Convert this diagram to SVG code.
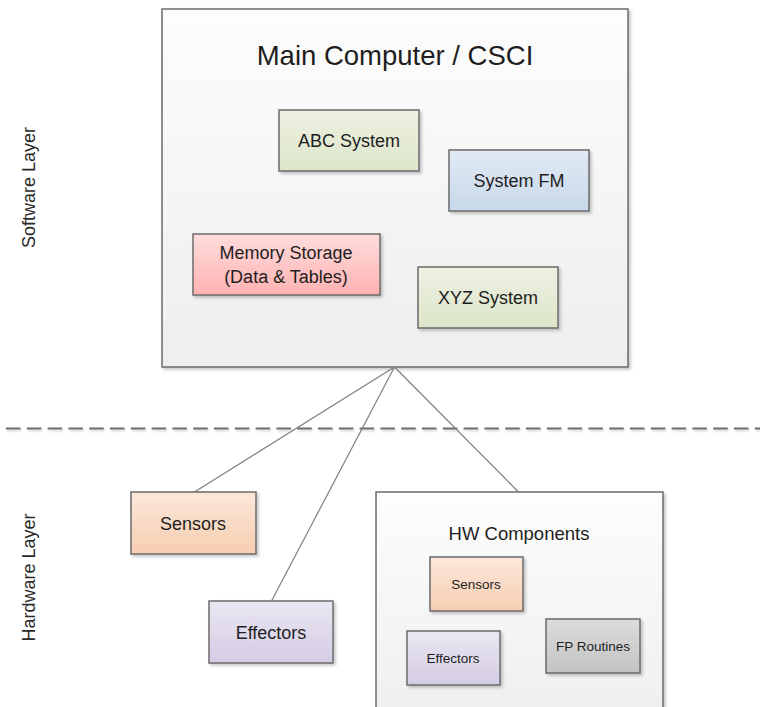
<svg xmlns="http://www.w3.org/2000/svg" width="760" height="707" viewBox="0 0 760 707">
  <defs>
    <filter id="shadow" x="-10%" y="-10%" width="130%" height="130%">
      <feDropShadow dx="2" dy="2" stdDeviation="1.4" flood-color="#000" flood-opacity="0.22"/>
    </filter>
    <filter id="lineShadow" filterUnits="userSpaceOnUse" x="0" y="418" width="760" height="22">
      <feDropShadow dx="1" dy="1.5" stdDeviation="1" flood-color="#000" flood-opacity="0.2"/>
    </filter>
    <linearGradient id="gContainer" x1="0" y1="0" x2="0" y2="1">
      <stop offset="0" stop-color="#fdfdfd"/>
      <stop offset="1" stop-color="#eeeeee"/>
    </linearGradient>
    <linearGradient id="gGreen" x1="0" y1="0" x2="0" y2="1">
      <stop offset="0" stop-color="#edf1e2"/>
      <stop offset="1" stop-color="#dde5c9"/>
    </linearGradient>
    <linearGradient id="gBlue" x1="0" y1="0" x2="0" y2="1">
      <stop offset="0" stop-color="#e1eaf5"/>
      <stop offset="1" stop-color="#c8d8ea"/>
    </linearGradient>
    <linearGradient id="gRed" x1="0" y1="0" x2="0" y2="1">
      <stop offset="0" stop-color="#ffdcdc"/>
      <stop offset="1" stop-color="#ffb2b2"/>
    </linearGradient>
    <linearGradient id="gOrange" x1="0" y1="0" x2="0" y2="1">
      <stop offset="0" stop-color="#fce8da"/>
      <stop offset="1" stop-color="#f6ceb1"/>
    </linearGradient>
    <linearGradient id="gPurple" x1="0" y1="0" x2="0" y2="1">
      <stop offset="0" stop-color="#ebe7f2"/>
      <stop offset="1" stop-color="#d4cce4"/>
    </linearGradient>
    <linearGradient id="gGray" x1="0" y1="0" x2="0" y2="1">
      <stop offset="0" stop-color="#dcdcdc"/>
      <stop offset="1" stop-color="#c3c3c3"/>
    </linearGradient>
  </defs>
  <style>
    .box { stroke: #6b6b6b; stroke-width: 1.5; filter: url(#shadow); }
    .label { font-family: "Liberation Sans", Arial, sans-serif; fill: #1e1e1e; text-anchor: middle; }
    .title { font-size: 27.5px; }
    .mid { font-size: 18px; }
    .small { font-size: 13.5px; }
    .layer { font-size: 18px; fill: #2a2a2a; }
    .conn { stroke: #808080; stroke-width: 1.2; fill: none; }
    .divider { stroke: #6e6e6e; stroke-width: 2; stroke-dasharray: 14.5 6.3; fill: none; filter: url(#lineShadow); }
  </style>

  <!-- layer labels and separator -->
  <g id="layers">
    <text class="label layer" transform="translate(35,187.5) rotate(-90)">Software Layer</text>
    <text class="label layer" transform="translate(35,577.5) rotate(-90)">Hardware Layer</text>
    <path class="divider" d="M6,428.5 H760"/>
  </g>

  <!-- software layer: main computer -->
  <g id="main-computer">
    <rect class="box" x="162" y="9" width="466" height="358" fill="url(#gContainer)"/>
    <text class="label title" x="395" y="65">Main Computer / CSCI</text>
  </g>
  <g id="abc-system">
    <rect class="box" x="279" y="110" width="140" height="61" fill="url(#gGreen)"/>
    <text class="label mid" x="349" y="147">ABC System</text>
  </g>
  <g id="system-fm">
    <rect class="box" x="449" y="150" width="140" height="61" fill="url(#gBlue)"/>
    <text class="label mid" x="519" y="187">System FM</text>
  </g>
  <g id="memory-storage">
    <rect class="box" x="193" y="234" width="187" height="61" fill="url(#gRed)"/>
    <text class="label mid" x="286" y="259">Memory Storage</text>
    <text class="label mid" x="286" y="283">(Data &amp; Tables)</text>
  </g>
  <g id="xyz-system">
    <rect class="box" x="418" y="267" width="140" height="61" fill="url(#gGreen)"/>
    <text class="label mid" x="488" y="304">XYZ System</text>
  </g>

  <!-- connectors from the main computer down to the hardware layer -->
  <g id="connectors">
    <path class="conn" d="M394.5,367 L194.5,492"/>
    <path class="conn" d="M394.5,367 L271.5,601"/>
    <path class="conn" d="M394.5,367 L518.5,492"/>
  </g>

  <!-- hardware layer -->
  <g id="sensors">
    <rect class="box" x="131" y="492" width="125" height="62" fill="url(#gOrange)"/>
    <text class="label mid" x="193" y="529.5">Sensors</text>
  </g>
  <g id="effectors">
    <rect class="box" x="209" y="601" width="124" height="62" fill="url(#gPurple)"/>
    <text class="label mid" x="271" y="638.5">Effectors</text>
  </g>
  <g id="hw-components">
    <rect class="box" x="376" y="492" width="287" height="240" fill="url(#gContainer)"/>
    <text class="label" style="font-size:18.5px" x="519" y="539.5">HW Components</text>
  </g>
  <g id="hw-sensors">
    <rect class="box" x="430" y="557" width="93" height="54" fill="url(#gOrange)"/>
    <text class="label small" x="476" y="589">Sensors</text>
  </g>
  <g id="hw-effectors">
    <rect class="box" x="407" y="631" width="93" height="54" fill="url(#gPurple)"/>
    <text class="label small" x="453" y="663">Effectors</text>
  </g>
  <g id="fp-routines">
    <rect class="box" x="546" y="619" width="94" height="54" fill="url(#gGray)"/>
    <text class="label small" x="593" y="651">FP Routines</text>
  </g>
</svg>
